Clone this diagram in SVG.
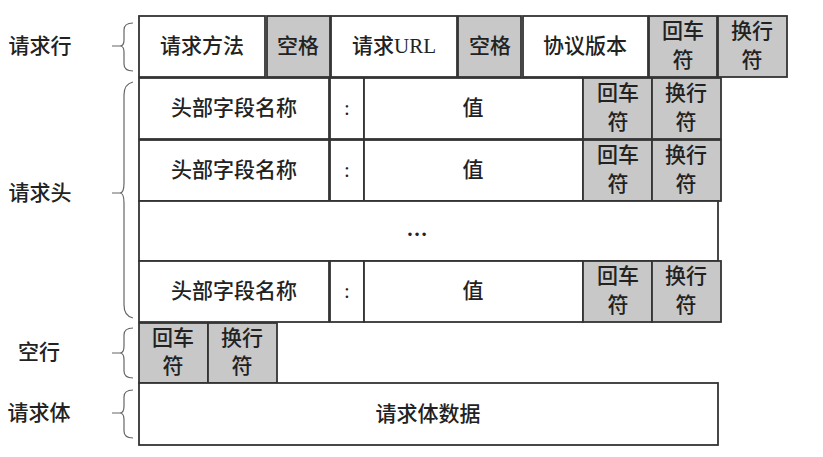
<svg xmlns="http://www.w3.org/2000/svg" width="823" height="457" viewBox="0 0 823 457">
<style>
.c{fill:#fff;stroke:#333;stroke-width:1.8}
.g{fill:#c8c8c8;stroke:#333;stroke-width:1.8}
text{font-family:"Liberation Serif","Noto Sans CJK SC",serif;font-size:21px;font-weight:500;fill:#222;text-anchor:middle;dominant-baseline:central}
.lb{font-size:21px}
.br{fill:none;stroke:#666;stroke-width:1.2}
</style>
<rect width="823" height="457" fill="#fff"/>
<g id="labels">
<text class="lb" x="40" y="46">请求行</text>
<text class="lb" x="40" y="193">请求头</text>
<text class="lb" x="39" y="352">空行</text>
<text class="lb" x="39" y="413">请求体</text>
</g>
<g id="connectors">
<path class="br" d="M112 46H122 M133 23Q124 23 124 30V40Q124 46 120 46Q124 46 124 52V64Q124 71 133 71"/>
<path class="br" d="M112 193H122 M133 82Q124 84 124 95V183Q124 193 120 193Q124 193 124 203V305Q124 316 133 318"/>
<path class="br" d="M112 353H122 M133 328Q124 328 124 335V346Q124 353 120 353Q124 353 124 360V371Q124 378 133 378"/>
<path class="br" d="M112 413H122 M133 390Q124 390 124 397V406Q124 413 120 413Q124 413 124 420V431Q124 438 133 438"/>
</g>
<g id="request-line">
<rect class="c" x="139" y="16" width="126" height="61"/><text x="202" y="46">请求方法</text>
<rect class="g" x="267" y="16" width="63" height="61"/><text x="298" y="46">空格</text>
<rect class="c" x="331" y="16" width="126" height="61"/><text x="394" y="46">请求URL</text>
<rect class="g" x="458" y="16" width="63" height="61"/><text x="490" y="46">空格</text>
<rect class="c" x="523" y="16" width="125" height="61"/><text x="585" y="46">协议版本</text>
<rect class="g" x="649" y="16" width="68" height="61"/><text x="683" y="31">回车</text><text x="683" y="60">符</text>
<rect class="g" x="718" y="16" width="69" height="61"/><text x="752" y="31">换行</text><text x="752" y="60">符</text>
</g>
<g id="header-1">
<rect class="c" x="139" y="78" width="190" height="61"/><text x="234" y="108">头部字段名称</text>
<rect class="c" x="330" y="78" width="34" height="61"/><text x="347" y="108">:</text>
<rect class="c" x="364" y="78" width="219" height="61"/><text x="473" y="108">值</text>
<rect class="g" x="583" y="78" width="69" height="61"/><text x="618" y="93">回车</text><text x="618" y="122">符</text>
<rect class="g" x="652" y="78" width="69" height="61"/><text x="686" y="93">换行</text><text x="686" y="122">符</text>
</g>
<g id="header-2">
<rect class="c" x="139" y="140" width="190" height="61"/><text x="234" y="170">头部字段名称</text>
<rect class="c" x="330" y="140" width="34" height="61"/><text x="347" y="170">:</text>
<rect class="c" x="364" y="140" width="219" height="61"/><text x="473" y="170">值</text>
<rect class="g" x="583" y="140" width="69" height="61"/><text x="618" y="155">回车</text><text x="618" y="184">符</text>
<rect class="g" x="652" y="140" width="69" height="61"/><text x="686" y="155">换行</text><text x="686" y="184">符</text>
</g>
<g id="header-more">
<rect class="c" x="139" y="201" width="579" height="60"/><text x="417" y="229" style="font-weight:bold">…</text>
</g>
<g id="header-n">
<rect class="c" x="139" y="261" width="190" height="61"/><text x="234" y="291">头部字段名称</text>
<rect class="c" x="330" y="261" width="34" height="61"/><text x="347" y="291">:</text>
<rect class="c" x="364" y="261" width="219" height="61"/><text x="473" y="291">值</text>
<rect class="g" x="583" y="261" width="69" height="61"/><text x="618" y="276">回车</text><text x="618" y="305">符</text>
<rect class="g" x="652" y="261" width="69" height="61"/><text x="686" y="276">换行</text><text x="686" y="305">符</text>
</g>
<g id="blank-line">
<rect class="g" x="139" y="323" width="69" height="60"/><text x="173" y="338">回车</text><text x="173" y="366">符</text>
<rect class="g" x="208" y="323" width="69" height="60"/><text x="242" y="338">换行</text><text x="242" y="366">符</text>
</g>
<g id="request-body">
<rect class="c" x="139" y="383" width="579" height="62"/><text x="428" y="414">请求体数据</text>
</g>
</svg>
